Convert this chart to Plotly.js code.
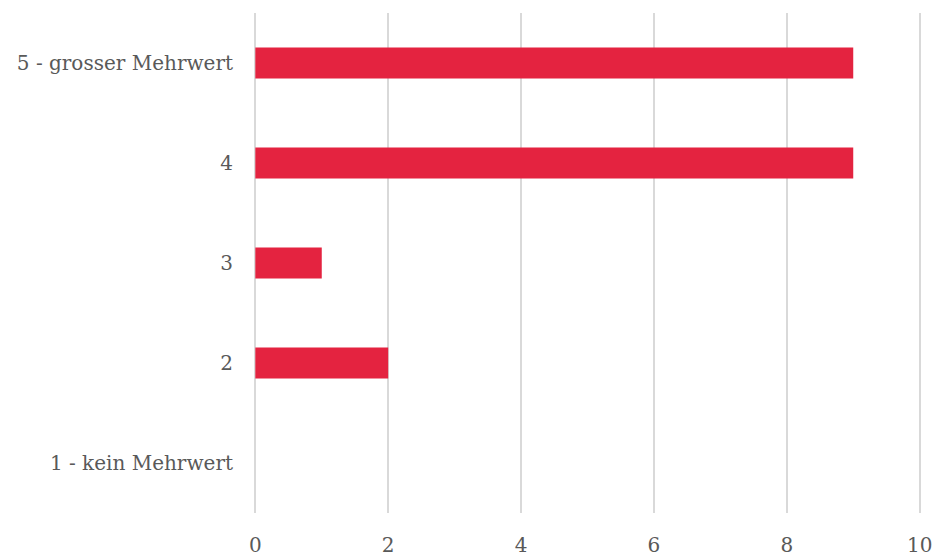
<!DOCTYPE html>
<html>
<head>
<meta charset="utf-8">
<script src="https://cdn.plot.ly/plotly-3.0.1.min.js"></script>
<style>html,body{margin:0;padding:0;background:#fff;}#chart{width:934px;height:557px;}</style>
</head>
<body>
<div id="chart"></div>
<script>
const categories = ["1 - kein Mehrwert", "2", "3", "4", "5 - grosser Mehrwert"];
const values = [0, 2, 1, 9, 9];
const xTicks = [0, 2, 4, 6, 8, 10];

const fontFamily = "DejaVu Serif, Liberation Serif, serif";
const trace = {
  type: "bar",
  orientation: "h",
  y: categories,
  x: values,
  marker: {color: "#E42340"},
  hoverinfo: "x+y"
};
const layout = {
  width: 934, height: 557,
  margin: {l: 254, r: 13, t: 13, b: 44},
  paper_bgcolor: "#fff", plot_bgcolor: "#fff",
  bargap: 0.69,
  showlegend: false,
  font: {family: fontFamily, color: "#595959", size: 20},
  xaxis: {
    range: [-0.02, 10.02],
    tickvals: xTicks,
    ticktext: xTicks.map(String),
    showgrid: true, gridcolor: "#D9D9D9", gridwidth: 2,
    zeroline: false, showline: false, ticks: "",
    ticklabelstandoff: 18,
    tickfont: {family: fontFamily, size: 20, color: "#595959"}
  },
  yaxis: {
    type: "category",
    categoryorder: "array", categoryarray: categories,
    range: [-0.5, 4.5],
    showgrid: false, zeroline: false, showline: false, ticks: "",
    ticklabelstandoff: 20,
    tickfont: {family: fontFamily, size: 20, color: "#595959"}
  }
};
Plotly.newPlot("chart", [trace], layout, {displayModeBar: false, staticPlot: true});
</script>
</body>
</html>
